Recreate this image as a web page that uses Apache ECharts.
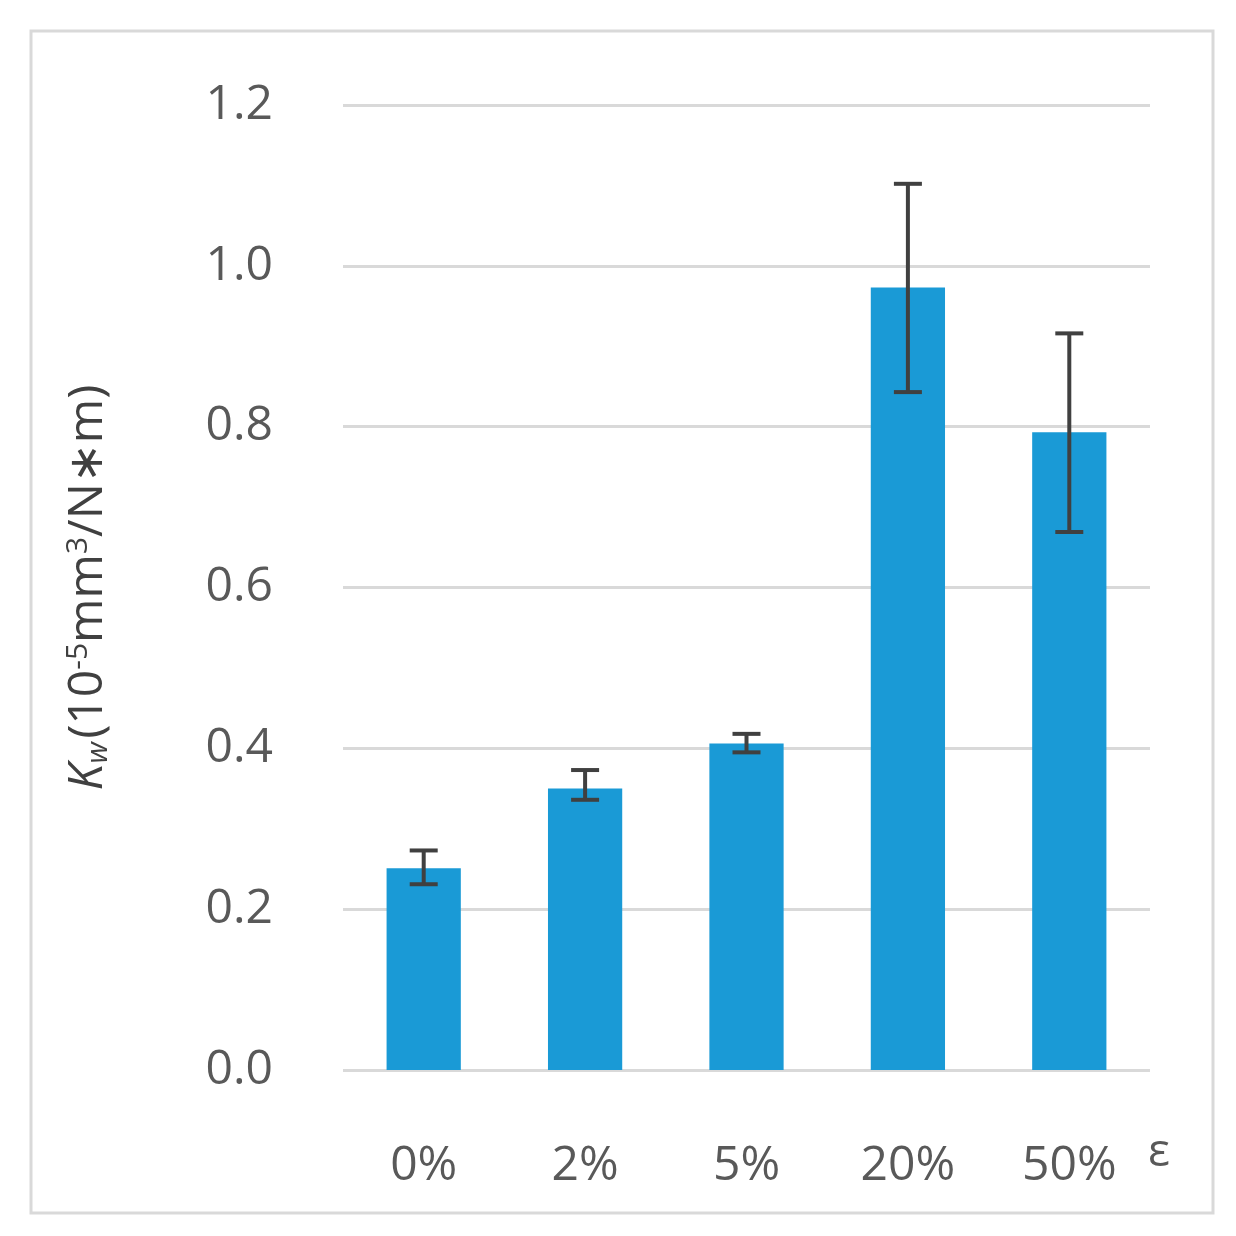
<!DOCTYPE html>
<html><head><meta charset="utf-8">
<script src="https://cdn.jsdelivr.net/npm/echarts@6/dist/echarts.min.js"></script>
<style>html,body{margin:0;padding:0;background:#fff}#c{width:1236px;height:1236px}</style>
</head><body><div id="c"></div>
<script>
const categories = ['0%', '2%', '5%', '20%', '50%'];
const values = [0.251, 0.350, 0.406, 0.973, 0.793];
const errLow = [0.231, 0.336, 0.395, 0.843, 0.669];
const errHigh = [0.273, 0.373, 0.418, 1.102, 0.916];

const chart = echarts.init(document.getElementById('c'));
const font = 'Open Sans, Noto Sans, sans-serif';
chart.setOption({
  animation: false,
  graphic: [{type: 'rect', shape: {x: 31, y: 31, width: 1182, height: 1182},
    style: {fill: 'none', stroke: '#d9d9d9', lineWidth: 3}},
    {type: 'text', left: 1148, top: 1130, style: {text: 'ε', font: '46px ' + font, fill: '#595959'}}],
  grid: {left: 343, right: 86, top: 105, bottom: 166},
  xAxis: {type: 'category', data: categories,
    axisLine: {show: false}, axisTick: {show: false},
    axisLabel: {color: '#595959', fontSize: 48, fontFamily: font, margin: 72}},
  yAxis: {type: 'value', min: 0, max: 1.2, interval: 0.2,
    axisLabel: {color: '#595959', fontSize: 48, fontFamily: font, margin: 70,
      formatter: v => v.toFixed(1)},
    splitLine: {lineStyle: {color: '#d9d9d9', width: 3}},
    name: '{k|K}{s|w} {t|(10}{p|-5}{t|mm}{p|3}{t|/N∗m)}',
    nameLocation: 'middle', nameRotate: 90, nameGap: 230,
    nameTextStyle: {rich: {
      k: {fontSize: 48, fontStyle: 'italic', color: '#404040', fontFamily: font},
      s: {fontSize: 30, fontStyle: 'italic', color: '#404040', fontFamily: font, verticalAlign: 'bottom', padding: [18, 0, 0, 0]},
      t: {fontSize: 48, color: '#404040', fontFamily: font},
      p: {fontSize: 30, color: '#404040', fontFamily: font, verticalAlign: 'top', padding: [0, 0, 20, 0]}
    }}},
  series: [{type: 'bar', data: values, barWidth: '46%', itemStyle: {color: '#1a9ad6'}},
    {type: 'custom', data: categories.map((c, i) => [i, errLow[i], errHigh[i]]),
     renderItem: (params, api) => {
       const lo = api.coord([api.value(0), api.value(1)]);
       const hi = api.coord([api.value(0), api.value(2)]);
       const w = 14;
       const st = {stroke: '#404040', lineWidth: 4};
       return {type: 'group', children: [
         {type: 'line', shape: {x1: lo[0], y1: lo[1], x2: hi[0], y2: hi[1]}, style: st},
         {type: 'line', shape: {x1: lo[0]-w, y1: lo[1], x2: lo[0]+w, y2: lo[1]}, style: st},
         {type: 'line', shape: {x1: hi[0]-w, y1: hi[1], x2: hi[0]+w, y2: hi[1]}, style: st}]};
     }, z: 10}]
});
</script></body></html>
